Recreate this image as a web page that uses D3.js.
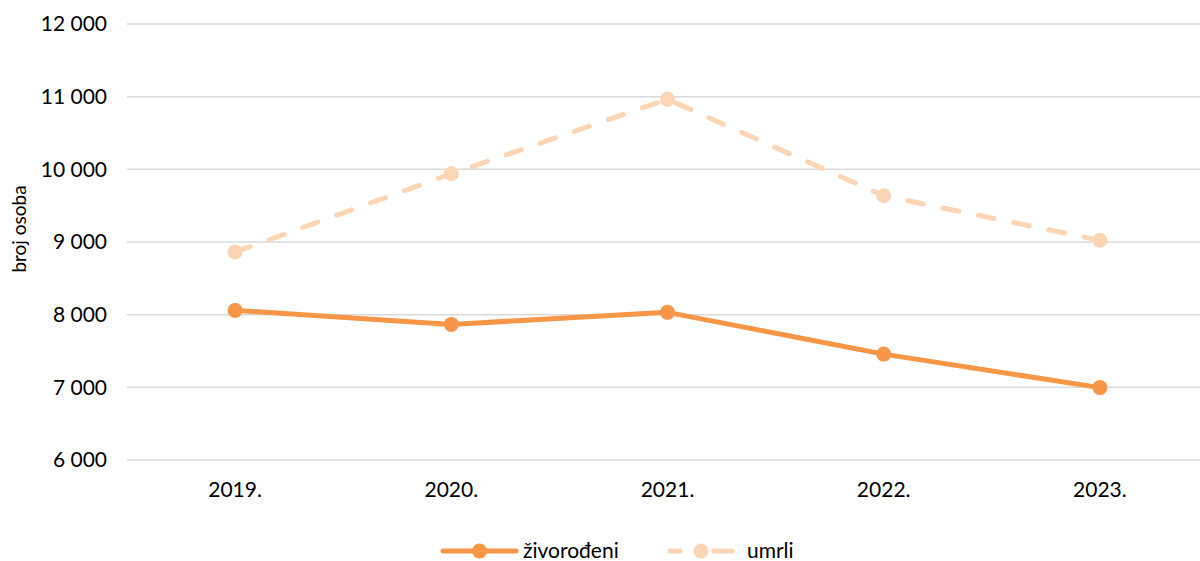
<!DOCTYPE html>
<html>
<head>
<meta charset="utf-8">
<script src="https://cdn.jsdelivr.net/npm/d3@7"></script>
<style>
  body { margin: 0; background: #fff; }
  svg { font-family: Lato, "Open Sans", sans-serif; }
</style>
</head>
<body>
<svg id="chart" width="1200" height="561"></svg>
<script>
// data
var years = ["2019.", "2020.", "2021.", "2022.", "2023."];
var zivorodeni = [8059, 7866, 8032, 7457, 6996];
var umrli = [8862, 9939, 10964, 9636, 9023];
var yTicks = [6000, 7000, 8000, 9000, 10000, 11000, 12000];

var seriesNames = ["živorođeni", "umrli"];
var seriesColors = ["#f79646", "#fcd5b4"];

var svg = d3.select("#chart"),
    margin = { top: 24, right: -8, bottom: 101, left: 127 },
    width = +svg.attr("width") - margin.left - margin.right,
    height = +svg.attr("height") - margin.top - margin.bottom;

var x = d3.scaleBand().domain(years).range([0, width]),
    y = d3.scaleLinear().domain([6000, 12000]).range([height, 0]);

var fmt = function (d) { return d3.format(",")(d).replace(",", " "); };

var g = svg.append("g")
    .attr("transform", "translate(" + margin.left + "," + margin.top + ")");

// gridlines
g.append("g")
    .selectAll("line")
    .data(yTicks)
    .enter().append("line")
    .attr("x1", 0)
    .attr("x2", width)
    .attr("y1", function (d) { return y(d); })
    .attr("y2", function (d) { return y(d); })
    .attr("stroke", "#d9d9d9")
    .attr("stroke-width", 1.5);

// y axis labels
var yAxis = g.append("g")
    .call(d3.axisLeft(y).tickValues(yTicks).tickFormat(fmt).tickSize(0).tickPadding(20));
yAxis.select(".domain").remove();
yAxis.selectAll("text")
    .attr("font-size", 21)
    .attr("fill", "#000")
    .style("font-family", "Lato, sans-serif");

// x axis labels
var xAxis = g.append("g")
    .attr("transform", "translate(0," + height + ")")
    .call(d3.axisBottom(x).tickSize(0).tickPadding(22));
xAxis.select(".domain").remove();
xAxis.selectAll("text")
    .attr("font-size", 21)
    .attr("fill", "#000")
    .style("font-family", "Lato, sans-serif");

// y axis title
svg.append("text")
    .attr("transform", "translate(26,229) rotate(-90)")
    .attr("text-anchor", "middle")
    .attr("font-size", 19)
    .attr("fill", "#000")
    .text("broj osoba");

var line = d3.line()
    .x(function (d, i) { return x(years[i]) + x.bandwidth() / 2; })
    .y(function (d) { return y(d); });

// umrli (dashed)
g.append("path")
    .datum(umrli)
    .attr("fill", "none")
    .attr("stroke", seriesColors[1])
    .attr("stroke-width", 5)
    .attr("stroke-linecap", "round")
    .attr("stroke-dasharray", "16 20")
    .attr("d", line);

g.selectAll(".dot-umrli")
    .data(umrli)
    .enter().append("circle")
    .attr("class", "dot-umrli")
    .attr("cx", function (d, i) { return x(years[i]) + x.bandwidth() / 2; })
    .attr("cy", function (d) { return y(d); })
    .attr("r", 7.5)
    .attr("fill", seriesColors[1]);

// živorođeni (solid)
g.append("path")
    .datum(zivorodeni)
    .attr("fill", "none")
    .attr("stroke", seriesColors[0])
    .attr("stroke-width", 5)
    .attr("stroke-linejoin", "round")
    .attr("d", line);

g.selectAll(".dot-ziv")
    .data(zivorodeni)
    .enter().append("circle")
    .attr("class", "dot-ziv")
    .attr("cx", function (d, i) { return x(years[i]) + x.bandwidth() / 2; })
    .attr("cy", function (d) { return y(d); })
    .attr("r", 7.5)
    .attr("fill", seriesColors[0]);

// legend
var legend = svg.append("g").attr("transform", "translate(0,551)");
var legendX = [443, 670];
var legendLen = [73, 62];
var legendTextX = [80, 77];
seriesNames.forEach(function (name, i) {
    var lg = legend.append("g").attr("transform", "translate(" + legendX[i] + ",0)");
    lg.append("line")
        .attr("x1", 0).attr("x2", legendLen[i])
        .attr("stroke", seriesColors[i])
        .attr("stroke-width", 5)
        .attr("stroke-linecap", "round")
        .attr("stroke-dasharray", i === 1 ? "10 34 18 100" : null);
    lg.append("circle")
        .attr("cx", legendLen[i] / 2)
        .attr("r", 7.5)
        .attr("fill", seriesColors[i]);
    lg.append("text")
        .attr("x", legendTextX[i])
        .attr("dy", "0.32em")
        .attr("font-size", 21)
        .attr("fill", "#000")
        .text(name);
});
</script>
</body>
</html>
